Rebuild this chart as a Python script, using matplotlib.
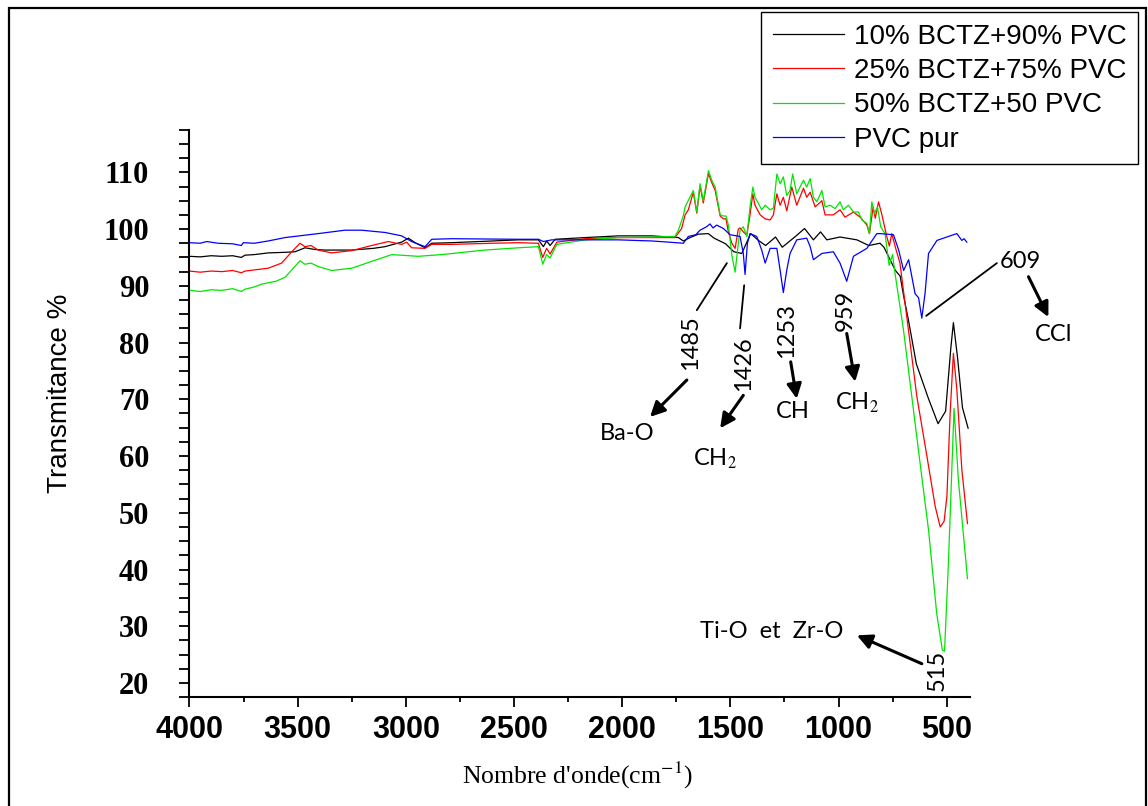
"""FTIR spectra of BCTZ/PVC composites vs pure PVC, with band assignments."""

import matplotlib
matplotlib.use("Agg")
import matplotlib.pyplot as plt
from matplotlib.patches import Rectangle
from matplotlib.ticker import MultipleLocator

plt.rcParams["mathtext.fontset"] = "stix"

# 10% BCTZ + 90% PVC
wn_10 = [4000, 3950, 3900, 3850, 3800, 3760, 3743, 3700, 3636, 3560, 3512, 3466,
         3420, 3374, 3250, 3150, 3096, 3019, 2988, 2957, 2911, 2880, 2788, 2600,
         2480, 2387, 2364, 2349, 2333, 2310, 2171, 2018, 1863, 1740, 1717, 1686,
         1648, 1602, 1575, 1522, 1484, 1447, 1406, 1370, 1337, 1291, 1260, 1199,
         1157, 1116, 1083, 1054, 993, 915, 860, 808, 790, 768, 737, 715, 700, 677,
         640, 585, 540, 505, 481, 469, 450, 427, 401]
tr_10 = [95.2, 95.1, 95.3, 95.2, 95.3, 95.0, 95.4, 95.5, 95.8, 95.9, 96.0, 96.7,
         96.4, 96.3, 96.3, 96.6, 96.9, 97.7, 98.4, 97.6, 96.7, 97.5, 97.6, 97.9,
         98.1, 98.1, 96.9, 97.9, 97.1, 98.2, 98.5, 98.8, 98.8, 98.5, 97.9, 98.5,
         99.1, 99.2, 98.4, 97.4, 96.0, 95.7, 99.2, 98.0, 97.1, 98.6, 96.8, 98.7,
         100.1, 98.1, 99.5, 98.1, 98.6, 98.1, 97.1, 97.5, 96.8, 95.1, 92.7, 91.7,
         88.4, 84.0, 76.2, 70.2, 65.7, 67.9, 79.0, 83.5, 77.4, 68.5, 64.9]

# 25% BCTZ + 75% PVC
wn_25 = [4000, 3950, 3900, 3850, 3800, 3760, 3743, 3700, 3636, 3574, 3527, 3489,
         3466, 3438, 3405, 3343, 3250, 3158, 3081, 3019, 2996, 2973, 2911, 2880,
         2788, 2600, 2480, 2387, 2367, 2349, 2333, 2302, 2171, 2018, 1863, 1756,
         1725, 1709, 1694, 1671, 1655, 1640, 1625, 1601, 1586, 1570, 1547, 1532,
         1520, 1509, 1493, 1478, 1463, 1455, 1440, 1424, 1409, 1396, 1386, 1362,
         1339, 1316, 1301, 1285, 1270, 1255, 1239, 1216, 1193, 1162, 1147, 1131,
         1108, 1077, 1062, 1024, 993, 970, 931, 900, 869, 857, 840, 830, 815, 800,
         777, 765, 754, 735, 716, 677, 638, 592, 553, 530, 512, 499, 484, 469,
         453, 430, 404]
tr_25 = [92.6, 92.4, 92.6, 92.5, 92.7, 92.3, 92.6, 92.8, 93.1, 94.0, 96.0, 97.5,
         96.9, 97.1, 96.3, 95.8, 96.2, 97.1, 97.8, 97.3, 97.7, 96.7, 96.6, 97.3,
         97.3, 97.5, 97.6, 97.5, 95.0, 96.6, 95.6, 97.7, 98.3, 98.5, 98.5, 98.5,
         100.1, 102.5, 103.4, 106.5, 102.8, 107.6, 104.6, 109.8, 108.2, 106.8,
         102.3, 101.8, 101.8, 99.5, 97.5, 96.6, 100.0, 100.2, 99.5, 98.9, 102.5,
         106.2, 104.2, 102.5, 101.8, 101.6, 102.5, 106.2, 104.2, 105.6, 103.2,
         107.4, 104.2, 107.2, 105.6, 106.5, 103.9, 105.0, 102.5, 102.5, 103.4,
         102.1, 103.0, 102.1, 100.7, 99.2, 103.9, 101.9, 104.8, 102.6, 98.7, 97.0,
         99.2, 96.5, 94.0, 82.3, 70.5, 60.1, 51.1, 47.5, 48.5, 52.9, 67.6, 78.1,
         71.7, 57.6, 48.1]

# 50% BCTZ + 50% PVC
wn_50 = [4000, 3950, 3900, 3850, 3800, 3760, 3743, 3700, 3666, 3600, 3558, 3489,
         3466, 3438, 3405, 3343, 3250, 3158, 3065, 2942, 2834, 2711, 2634, 2480,
         2387, 2367, 2349, 2333, 2302, 2171, 2018, 1863, 1756, 1740, 1717, 1709,
         1671, 1655, 1640, 1625, 1601, 1586, 1570, 1547, 1532, 1520, 1509, 1493,
         1478, 1463, 1455, 1440, 1424, 1409, 1396, 1386, 1370, 1355, 1339, 1316,
         1301, 1285, 1270, 1255, 1239, 1224, 1212, 1193, 1178, 1162, 1147, 1131,
         1116, 1100, 1077, 1062, 1039, 1016, 993, 978, 954, 931, 908, 892, 869,
         857, 846, 834, 820, 805, 785, 766, 750, 740, 700, 661, 623, 584, 546,
         520, 510, 492, 466, 446, 404]
tr_50 = [89.2, 89.0, 89.3, 89.2, 89.5, 89.0, 89.4, 89.8, 90.3, 90.8, 91.5, 94.4,
         93.8, 94.0, 93.4, 92.7, 93.1, 94.3, 95.5, 95.2, 95.5, 96.0, 96.3, 96.7,
         96.9, 93.8, 95.5, 94.9, 97.3, 98.1, 98.5, 98.6, 98.7, 99.8, 102.4, 103.9,
         106.8, 103.0, 108.0, 105.0, 110.3, 108.6, 107.4, 102.5, 102.3, 102.3,
         100.7, 95.4, 92.4, 97.5, 99.8, 100.4, 98.7, 103.9, 107.4, 105.6, 104.5,
         103.4, 104.2, 103.4, 103.7, 109.7, 108.0, 109.2, 105.9, 106.8, 109.7,
         106.2, 107.4, 108.6, 107.4, 108.9, 105.6, 104.8, 106.8, 103.9, 104.2,
         103.6, 104.8, 103.4, 104.2, 103.0, 103.0, 101.6, 101.0, 99.2, 104.8,
         102.7, 103.9, 100.4, 99.2, 93.6, 95.5, 92.5, 82.3, 70.4, 58.7, 47.0,
         32.2, 25.8, 25.6, 41.1, 68.4, 55.8, 38.4]

# pure PVC
wn_pvc = [4000, 3950, 3920, 3867, 3800, 3760, 3751, 3700, 3636, 3558, 3405, 3281,
          3204, 3096, 3019, 2973, 2911, 2880, 2788, 2480, 2387, 2364, 2325, 2171,
          2018, 1863, 1786, 1717, 1694, 1660, 1640, 1610, 1594, 1580, 1563, 1532,
          1501, 1455, 1440, 1432, 1421, 1409, 1378, 1355, 1339, 1316, 1285, 1270,
          1255, 1239, 1224, 1193, 1147, 1131, 1116, 1077, 1024, 993, 962, 931,
          869, 823, 808, 746, 722, 699, 676, 646, 630, 615, 600, 584, 545, 484,
          453, 430, 420, 407]
tr_pvc = [97.6, 97.5, 97.8, 97.5, 97.4, 97.1, 97.6, 97.5, 97.9, 98.5, 99.2, 99.8,
          99.8, 99.4, 98.8, 97.8, 96.9, 98.2, 98.3, 98.2, 98.2, 97.8, 98.1, 98.1,
          98.1, 97.9, 97.7, 97.5, 98.7, 99.0, 99.8, 100.4, 100.9, 100.2, 100.7,
          100.1, 99.0, 98.7, 95.7, 92.0, 97.5, 99.2, 98.7, 96.3, 94.0, 96.6, 96.6,
          92.8, 88.8, 92.8, 95.7, 98.1, 98.4, 96.9, 94.6, 95.7, 96.0, 94.0, 90.8,
          95.2, 96.6, 99.2, 99.2, 99.0, 96.3, 92.7, 94.6, 88.6, 87.9, 84.3, 88.7,
          95.7, 98.0, 98.8, 99.2, 98.0, 98.3, 97.7]

labels = ["10% BCTZ+90% PVC", "25% BCTZ+75% PVC", "50% BCTZ+50 PVC", "PVC pur"]
colors = ["#000000", "#ff0000", "#00e600", "#0000ff"]

ANNOT_FONT = ["Lato", "DejaVu Sans"]
ARROW = dict(arrowstyle="-|>", color="k", lw=2.2, mutation_scale=22,
             shrinkA=0, shrinkB=0)
LEADER = dict(arrowstyle="-", color="k", lw=1.3, shrinkA=0, shrinkB=0)

fig = plt.figure(figsize=(11.48, 8.06), dpi=100)
fig.patch.set_facecolor("white")
ax = fig.add_axes([0.165, 0.135, 0.680, 0.704])

for wn, tr, lab, col in zip([wn_10, wn_25, wn_50, wn_pvc],
                            [tr_10, tr_25, tr_50, tr_pvc], labels, colors):
    ax.plot(wn, tr, color=col, lw=0.9, label=lab)

ax.set_xlim(4000, 392)
ax.set_ylim(17.5, 117.5)
ax.xaxis.set_major_locator(MultipleLocator(500))
ax.xaxis.set_minor_locator(MultipleLocator(250))
ax.yaxis.set_major_locator(MultipleLocator(10))
ax.yaxis.set_minor_locator(MultipleLocator(2.5))
ax.set_yticks(range(20, 111, 10))

for spine in ("top", "right"):
    ax.spines[spine].set_visible(False)
for spine in ("left", "bottom"):
    ax.spines[spine].set_linewidth(1.5)

ax.tick_params(axis="x", which="major", direction="out", length=7, width=1.3, pad=6)
ax.tick_params(axis="x", which="minor", direction="out", length=3.5, width=1.3)
ax.tick_params(axis="y", which="both", direction="out", length=7, width=1.3)
ax.tick_params(axis="y", which="major", pad=22)

for t in ax.get_xticklabels():
    t.set_fontfamily("Liberation Sans")
    t.set_fontweight("bold")
    t.set_fontsize(22)
for t in ax.get_yticklabels():
    t.set_fontfamily("Liberation Serif")
    t.set_fontweight("bold")
    t.set_fontsize(22)

fig.text(60 / 1148, 1 - 393 / 806, "Transmitance %", rotation=90, ha="center",
         va="center", fontsize=20, family="Liberation Sans")
fig.text(577 / 1148, 1 - 775 / 806, "Nombre d'onde(cm$^{-1}$)", ha="center",
         va="center", fontsize=18.5, family="Liberation Serif")

leg = ax.legend(loc="upper right", bbox_to_anchor=(1138 / 1148, 1 - 12 / 806),
                bbox_transform=fig.transFigure, prop={"family": "Liberation Sans",
                                                      "size": 20},
                frameon=True, fancybox=False, framealpha=1, edgecolor="k",
                handlelength=2.55, handletextpad=0.36, labelspacing=0.3,
                borderpad=0.42, borderaxespad=0)
leg.get_frame().set_linewidth(1.0)

# band assignments: rotated wavenumbers with leader lines, arrows to groups
def num(text, x, y, rot=90):
    ax.text(x, y, text, rotation=rot, ha="center", va="center", fontsize=17,
            family=ANNOT_FONT, clip_on=False)

def lead(x0, y0, x1, y1, props):
    ax.annotate("", xy=(x1, y1), xytext=(x0, y0), arrowprops=props,
                annotation_clip=False)

lead(1516, 94.0, 1655, 85.7, LEADER)
num("1485", 1686, 79.9)
lead(1701, 73.4, 1871, 66.9, ARROW)
num("Ba-O", 1979, 64.0, rot=0)

lead(1436, 90.1, 1455, 82.5, LEADER)
num("1426", 1440, 76.3)
lead(1440, 70.7, 1547, 64.9, ARROW)
num("CH$_2$", 1571, 59.5, rot=0)

num("1253", 1239, 82.2)
lead(1221, 76.6, 1193, 70.1, ARROW)
num("CH", 1209, 67.8, rot=0)

num("959", 969, 85.7)
lead(962, 81.6, 923, 73.1, ARROW)
num("CH$_2$", 915, 69.3, rot=0)

lead(595, 84.7, 268, 94.0, LEADER)
num("609", 160, 94.2, rot=0)
lead(122, 91.6, 30, 84.5, ARROW)
num("CCl", 6, 81.5, rot=0)

num("515", 543, 22.2)
lead(615, 23.4, 915, 28.4, ARROW)
num("Ti-O  et  Zr-O", 1307, 29.1, rot=0)

# outer frame of the original figure
fig.add_artist(Rectangle((9 / 1148, -0.05), 1137 / 1148, 1.05 - 8 / 806,
                         transform=fig.transFigure, fill=False, lw=1.6,
                         edgecolor="k", clip_on=False))

fig.savefig("out.png", dpi=100, facecolor="white")
